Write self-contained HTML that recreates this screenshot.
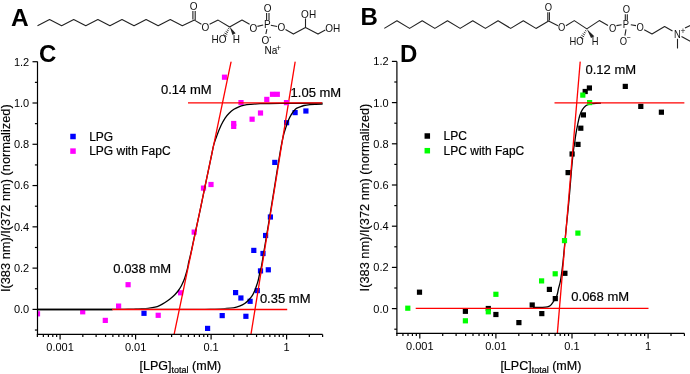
<!DOCTYPE html>
<html><head><meta charset="utf-8"><style>
html,body{margin:0;padding:0;background:#fff;}
svg{display:block;font-family:"Liberation Sans", sans-serif;will-change:transform;}

</style></head><body>
<svg width="690" height="374" viewBox="0 0 690 374">
<rect width="690" height="374" fill="#fff"/>
<text x="11.1" y="25.5" font-size="24.5" text-anchor="start" font-weight="bold" fill="#000">A</text>
<polyline points="37.5,25.8 49.57,19.6 61.64,25.8 73.71,19.6 85.78,25.8 97.85,19.6 109.92,25.8 121.98,19.6 134.05,25.8 146.12,19.6 158.19,25.8 170.26,19.6 182.33,25.8 194.4,20.1 201.4,24.2" fill="none" stroke="#222" stroke-width="1.1" stroke-linejoin="round"/>
<line x1="192.9" y1="19.6" x2="192.9" y2="11" stroke="#222" stroke-width="1.1"/>
<line x1="195.2" y1="20.1" x2="195.2" y2="11" stroke="#222" stroke-width="1.1"/>
<text transform="translate(193.6,6.4) scale(1,1.1)" x="0" y="3.58" font-size="10.0" text-anchor="middle" fill="#111">O</text>
<text transform="translate(205.4,26.8) scale(1,1.1)" x="0" y="3.58" font-size="10.0" text-anchor="middle" fill="#111">O</text>
<polyline points="209.6,24.3 218.1,20.1 229.6,27 242,20.1 249.6,24.3" fill="none" stroke="#222" stroke-width="1.1" stroke-linejoin="round"/>
<line x1="229.35" y1="28.88" x2="228.13" y2="28.2" stroke="#222" stroke-width="0.9"/>
<line x1="228.66" y1="30.76" x2="226.9" y2="29.8" stroke="#222" stroke-width="0.9"/>
<line x1="227.96" y1="32.65" x2="225.68" y2="31.39" stroke="#222" stroke-width="0.9"/>
<line x1="227.26" y1="34.53" x2="224.46" y2="32.99" stroke="#222" stroke-width="0.9"/>
<line x1="226.56" y1="36.42" x2="223.24" y2="34.58" stroke="#222" stroke-width="0.9"/>
<polygon points="229.7,26.8 232.5,35 235.6,33.3" fill="#222"/>
<text transform="translate(219,39.1) scale(1,1.1)" x="0" y="3.58" font-size="10.0" text-anchor="middle" fill="#111">HO</text>
<text transform="translate(236.3,39.1) scale(1,1.1)" x="0" y="3.58" font-size="10.0" text-anchor="middle" fill="#111">H</text>
<text transform="translate(253.5,27.6) scale(1,1.1)" x="0" y="3.58" font-size="10.0" text-anchor="middle" fill="#111">O</text>
<line x1="257.4" y1="26.4" x2="263.2" y2="25" stroke="#222" stroke-width="1.1"/>
<text transform="translate(267.3,24.3) scale(1,1.1)" x="0" y="3.58" font-size="10.0" text-anchor="middle" fill="#111">P</text>
<line x1="266.6" y1="20.2" x2="266.6" y2="12.9" stroke="#222" stroke-width="1.1"/>
<line x1="269" y1="20.2" x2="269" y2="12.9" stroke="#222" stroke-width="1.1"/>
<text transform="translate(267.7,7.8) scale(1,1.1)" x="0" y="3.58" font-size="10.0" text-anchor="middle" fill="#111">O</text>
<line x1="266.9" y1="29.2" x2="265.9" y2="34" stroke="#222" stroke-width="1.1"/>
<text transform="translate(265.3,40) scale(1,1.1)" x="0" y="3.58" font-size="10.0" text-anchor="middle" fill="#111">O</text>
<line x1="269.4" y1="37.3" x2="271" y2="37.3" stroke="#222" stroke-width="0.9"/>
<line x1="270.8" y1="25.2" x2="277.2" y2="26.5" stroke="#222" stroke-width="1.1"/>
<text transform="translate(281.3,27.5) scale(1,1.1)" x="0" y="3.58" font-size="10.0" text-anchor="middle" fill="#111">O</text>
<polyline points="285.5,29.6 293.4,34.1 305.5,27.5 318,34.1 325.3,30" fill="none" stroke="#222" stroke-width="1.1" stroke-linejoin="round"/>
<line x1="305.5" y1="27.5" x2="305.5" y2="18.4" stroke="#222" stroke-width="1.1"/>
<text transform="translate(308.6,13.6) scale(1,1.1)" x="0" y="3.58" font-size="10.0" text-anchor="middle" fill="#111">OH</text>
<text transform="translate(332.7,27.8) scale(1,1.1)" x="0" y="3.58" font-size="10.0" text-anchor="middle" fill="#111">OH</text>
<text x="264.5" y="54.3" font-size="10.0" text-anchor="start" font-weight="normal" fill="#111" stroke="#111" stroke-width="0.1">Na</text>
<text x="278.6" y="50.9" font-size="8.5" text-anchor="middle" font-weight="normal" fill="#111">+</text>
<text x="360.5" y="25.3" font-size="24" text-anchor="start" font-weight="bold" fill="#000">B</text>
<polyline points="384.3,28.4 396.94,20.8 409.58,28.4 422.22,20.8 434.85,28.4 447.49,20.8 460.13,28.4 472.77,20.8 485.41,28.4 498.05,20.8 510.68,28.4 523.32,20.8 535.96,28.4 548.6,21.1 558,25.8" fill="none" stroke="#222" stroke-width="1.1" stroke-linejoin="round"/>
<line x1="547.8" y1="21.1" x2="547.8" y2="12.2" stroke="#222" stroke-width="1.1"/>
<line x1="549.4" y1="20.6" x2="549.4" y2="12.2" stroke="#222" stroke-width="1.1"/>
<text transform="translate(548.5,6.8) scale(1,1.1)" x="0" y="3.37" font-size="9.4" text-anchor="middle" fill="#111">O</text>
<text transform="translate(561.7,27.5) scale(1,1.1)" x="0" y="3.37" font-size="9.4" text-anchor="middle" fill="#111">O</text>
<polyline points="565.9,25.8 574.3,20.6 586.8,28.9 599.3,20.6 608,25.6" fill="none" stroke="#222" stroke-width="1.1" stroke-linejoin="round"/>
<line x1="586.39" y1="31.11" x2="585.17" y2="30.41" stroke="#222" stroke-width="0.9"/>
<line x1="585.63" y1="33.02" x2="583.89" y2="32.02" stroke="#222" stroke-width="0.9"/>
<line x1="584.86" y1="34.93" x2="582.62" y2="33.63" stroke="#222" stroke-width="0.9"/>
<line x1="584.1" y1="36.84" x2="581.34" y2="35.24" stroke="#222" stroke-width="0.9"/>
<line x1="583.34" y1="38.75" x2="580.06" y2="36.85" stroke="#222" stroke-width="0.9"/>
<polygon points="586.8,29 591,37.9 594.3,36.3" fill="#222"/>
<text transform="translate(576.5,41.7) scale(1,1.1)" x="0" y="3.37" font-size="9.4" text-anchor="middle" fill="#111">HO</text>
<text transform="translate(595.2,41.7) scale(1,1.1)" x="0" y="3.37" font-size="9.4" text-anchor="middle" fill="#111">H</text>
<text transform="translate(612.6,27.9) scale(1,1.1)" x="0" y="3.37" font-size="9.4" text-anchor="middle" fill="#111">O</text>
<line x1="616.4" y1="25.6" x2="621.6" y2="24.8" stroke="#222" stroke-width="1.1"/>
<text transform="translate(626,24.7) scale(1,1.1)" x="0" y="3.37" font-size="9.4" text-anchor="middle" fill="#111">P</text>
<line x1="625.3" y1="20.2" x2="625.3" y2="14.2" stroke="#222" stroke-width="1.1"/>
<line x1="627.3" y1="20.2" x2="627.3" y2="14.2" stroke="#222" stroke-width="1.1"/>
<text transform="translate(626.3,9.1) scale(1,1.1)" x="0" y="3.37" font-size="9.4" text-anchor="middle" fill="#111">O</text>
<line x1="626" y1="29.4" x2="624.9" y2="35.6" stroke="#222" stroke-width="1.1"/>
<text transform="translate(623.4,41.4) scale(1,1.1)" x="0" y="3.37" font-size="9.4" text-anchor="middle" fill="#111">O</text>
<text x="629" y="39.6" font-size="6.5" text-anchor="middle" font-weight="normal" fill="#111" stroke="#111" stroke-width="0.2">−</text>
<line x1="630.8" y1="24.8" x2="636" y2="25.6" stroke="#222" stroke-width="1.1"/>
<text transform="translate(640.1,27.6) scale(1,1.1)" x="0" y="3.37" font-size="9.4" text-anchor="middle" fill="#111">O</text>
<polyline points="644.2,29.8 652,34 664.6,26.5 672.5,31" fill="none" stroke="#222" stroke-width="1.1" stroke-linejoin="round"/>
<text transform="translate(677.3,34) scale(1,1.1)" x="0" y="3.37" font-size="9.4" text-anchor="middle" fill="#111">N</text>
<text x="683" y="34.4" font-size="8.5" text-anchor="middle" font-weight="normal" fill="#111">+</text>
<line x1="685" y1="28" x2="690.5" y2="25.5" stroke="#222" stroke-width="1.1"/>
<line x1="681.5" y1="36.4" x2="690.5" y2="41.5" stroke="#222" stroke-width="1.1"/>
<line x1="677.5" y1="38.8" x2="677.5" y2="48.5" stroke="#222" stroke-width="1.1"/>
<text x="38.9" y="62.2" font-size="24" text-anchor="start" font-weight="bold" fill="#000">C</text>
<clipPath id="cc"><rect x="37.5" y="61.4" width="285.1" height="273"/></clipPath>
<mask id="mcc" maskUnits="userSpaceOnUse" x="0" y="0" width="690" height="374"><rect width="690" height="374" fill="#fff"/><rect x="112.5" y="308.7" width="175.0" height="2.3000000000000114" fill="#000"/></mask>
<g clip-path="url(#cc)">
<rect x="141.4" y="310.7" width="5.2" height="5.2" fill="#00f"/>
<rect x="205" y="325.8" width="5.2" height="5.2" fill="#00f"/>
<rect x="219.6" y="313" width="5.2" height="5.2" fill="#00f"/>
<rect x="243.3" y="313.7" width="5.2" height="5.2" fill="#00f"/>
<rect x="233" y="290" width="5.2" height="5.2" fill="#00f"/>
<rect x="238.3" y="295.4" width="5.2" height="5.2" fill="#00f"/>
<rect x="247.5" y="298.7" width="5.2" height="5.2" fill="#00f"/>
<rect x="254.7" y="288" width="5.2" height="5.2" fill="#00f"/>
<rect x="251.2" y="247.8" width="5.2" height="5.2" fill="#00f"/>
<rect x="260.4" y="250.9" width="5.2" height="5.2" fill="#00f"/>
<rect x="257.9" y="268.3" width="5.2" height="5.2" fill="#00f"/>
<rect x="265.7" y="267.2" width="5.2" height="5.2" fill="#00f"/>
<rect x="263" y="232.9" width="5.2" height="5.2" fill="#00f"/>
<rect x="267.8" y="214.4" width="5.2" height="5.2" fill="#00f"/>
<rect x="272.2" y="159.8" width="5.2" height="5.2" fill="#00f"/>
<rect x="284" y="120.1" width="5.2" height="5.2" fill="#00f"/>
<rect x="292.5" y="110" width="5.2" height="5.2" fill="#00f"/>
<rect x="303.3" y="108.4" width="5.2" height="5.2" fill="#00f"/>
<path d="M37.3,309.5 C63.58,309.5 167.05,309.52 195,309.5 C222.95,309.48 201.67,309.47 205,309.4 C208.33,309.33 211.67,309.23 215,309.1 C218.33,308.97 221.92,308.82 225,308.6 C228.08,308.38 231.08,308.22 233.5,307.8 C235.92,307.38 237.63,306.82 239.5,306.1 C241.37,305.38 243.13,304.57 244.7,303.5 C246.27,302.43 247.62,301.05 248.9,299.7 C250.18,298.35 251.4,296.97 252.4,295.4 C253.4,293.83 254.13,292.15 254.9,290.3 C255.67,288.45 256.43,286.02 257,284.3 C257.57,282.58 257.83,281.88 258.3,280 C258.77,278.12 259.27,275.33 259.8,273 C260.33,270.67 260.63,270.67 261.5,266 C262.37,261.33 263.58,253.5 265,245 C266.42,236.5 268.33,225.17 270,215 C271.67,204.83 273.33,194.33 275,184 C276.67,173.67 278.62,161 280,153 C281.38,145 282.3,140.32 283.3,136 C284.3,131.68 285.18,129.65 286,127.1 C286.82,124.55 287.3,122.83 288.2,120.7 C289.1,118.57 290.17,116.27 291.4,114.3 C292.63,112.33 294.17,110.13 295.6,108.9 C297.03,107.67 298.6,107.47 300,106.9 C301.4,106.33 302.33,105.88 304,105.5 C305.67,105.12 308,104.8 310,104.6 C312,104.4 313.83,104.37 316,104.3 C318.17,104.23 321.83,104.22 323,104.2" fill="none" stroke="#000" stroke-width="1.3" stroke-linejoin="round" mask="url(#mcc)"/>
<line x1="295.21" y1="61.4" x2="250.96" y2="334.4" stroke="#f00" stroke-width="1.3"/>
<rect x="34.9" y="311.2" width="5.2" height="5.2" fill="#f0f"/>
<rect x="80.1" y="309.2" width="5.2" height="5.2" fill="#f0f"/>
<rect x="102.7" y="317.8" width="5.2" height="5.2" fill="#f0f"/>
<rect x="116" y="303.5" width="5.2" height="5.2" fill="#f0f"/>
<rect x="125.5" y="282.1" width="5.2" height="5.2" fill="#f0f"/>
<rect x="155.6" y="312.7" width="5.2" height="5.2" fill="#f0f"/>
<rect x="178" y="290.2" width="5.2" height="5.2" fill="#f0f"/>
<rect x="191.6" y="229.5" width="5.2" height="5.2" fill="#f0f"/>
<rect x="200.9" y="185.5" width="5.2" height="5.2" fill="#f0f"/>
<rect x="208.4" y="181.9" width="5.2" height="5.2" fill="#f0f"/>
<rect x="221.9" y="74.6" width="5.2" height="5.2" fill="#f0f"/>
<rect x="231.1" y="120.9" width="5.2" height="5.2" fill="#f0f"/>
<rect x="231.1" y="123.8" width="5.2" height="5.2" fill="#f0f"/>
<rect x="238.4" y="100" width="5.2" height="5.2" fill="#f0f"/>
<rect x="249.5" y="116.6" width="5.2" height="5.2" fill="#f0f"/>
<rect x="257.9" y="110.4" width="5.2" height="5.2" fill="#f0f"/>
<rect x="264.2" y="96.8" width="5.2" height="5.2" fill="#f0f"/>
<rect x="269.9" y="91.7" width="5.2" height="5.2" fill="#f0f"/>
<rect x="274.7" y="91.7" width="5.2" height="5.2" fill="#f0f"/>
<rect x="283.9" y="100" width="5.2" height="5.2" fill="#f0f"/>
<path d="M37.3,309.5 C49.75,309.5 97.55,309.51 112,309.5 C126.45,309.49 121,309.51 124,309.45 C127,309.39 128,309.23 130,309.15 C132,309.07 134,309.02 136,308.95 C138,308.88 140,308.86 142,308.75 C144,308.64 145.83,308.56 148,308.3 C150.17,308.04 153,307.7 155,307.2 C157,306.7 158.33,306.08 160,305.3 C161.67,304.52 163.33,303.55 165,302.5 C166.67,301.45 168.37,300.28 170,299 C171.63,297.72 173.4,296.22 174.8,294.8 C176.2,293.38 177.3,292.02 178.4,290.5 C179.5,288.98 180.48,287.4 181.4,285.7 C182.32,284 183.18,282.1 183.9,280.3 C184.62,278.5 185.1,276.9 185.7,274.9 C186.3,272.9 187,270.42 187.5,268.3 C188,266.18 188.3,264.02 188.7,262.2 C189.1,260.38 189.42,259.43 189.9,257.4 C190.38,255.37 190.92,253.15 191.6,250 C192.28,246.85 193.18,242.33 194,238.5 C194.82,234.67 195.37,232.25 196.5,227 C197.63,221.75 199.38,213.75 200.8,207 C202.22,200.25 203.63,193.1 205,186.5 C206.37,179.9 207.83,172.98 209,167.4 C210.17,161.82 211.2,156.8 212,153 C212.8,149.2 212.95,147.6 213.8,144.6 C214.65,141.6 215.88,138.22 217.1,135 C218.32,131.78 219.77,128.12 221.1,125.3 C222.43,122.48 223.77,120.1 225.1,118.1 C226.43,116.1 227.63,114.77 229.1,113.3 C230.57,111.83 232.28,110.38 233.9,109.3 C235.52,108.22 237.05,107.48 238.8,106.8 C240.55,106.12 242.53,105.6 244.4,105.2 C246.27,104.8 247.4,104.65 250,104.4 C252.6,104.15 255,103.88 260,103.7 C265,103.52 269.5,103.38 280,103.3 C290.5,103.22 315.83,103.22 323,103.2" fill="none" stroke="#000" stroke-width="1.3" stroke-linejoin="round" mask="url(#mcc)"/>
<line x1="231.15" y1="61.4" x2="174.12" y2="334.4" stroke="#f00" stroke-width="1.3"/>
<line x1="112.1" y1="309.5" x2="287.2" y2="309.5" stroke="#f00" stroke-width="1.3"/>
<line x1="188" y1="102.8" x2="322.3" y2="102.8" stroke="#f00" stroke-width="1.3"/>
</g>
<line x1="37.5" y1="61.4" x2="37.5" y2="335" stroke="#000" stroke-width="1.2"/>
<line x1="36.9" y1="334.4" x2="322.6" y2="334.4" stroke="#000" stroke-width="1.2"/>
<line x1="34.9" y1="330.04" x2="37.5" y2="330.04" stroke="#000" stroke-width="1.2"/>
<line x1="32.5" y1="309.4" x2="37.5" y2="309.4" stroke="#000" stroke-width="1.2"/>
<text x="29.2" y="313.3" font-size="11" text-anchor="end" font-weight="normal" fill="#000">0.0</text>
<line x1="34.9" y1="288.76" x2="37.5" y2="288.76" stroke="#000" stroke-width="1.2"/>
<line x1="32.5" y1="268.12" x2="37.5" y2="268.12" stroke="#000" stroke-width="1.2"/>
<text x="29.2" y="272.02" font-size="11" text-anchor="end" font-weight="normal" fill="#000">0.2</text>
<line x1="34.9" y1="247.48" x2="37.5" y2="247.48" stroke="#000" stroke-width="1.2"/>
<line x1="32.5" y1="226.84" x2="37.5" y2="226.84" stroke="#000" stroke-width="1.2"/>
<text x="29.2" y="230.74" font-size="11" text-anchor="end" font-weight="normal" fill="#000">0.4</text>
<line x1="34.9" y1="206.2" x2="37.5" y2="206.2" stroke="#000" stroke-width="1.2"/>
<line x1="32.5" y1="185.56" x2="37.5" y2="185.56" stroke="#000" stroke-width="1.2"/>
<text x="29.2" y="189.46" font-size="11" text-anchor="end" font-weight="normal" fill="#000">0.6</text>
<line x1="34.9" y1="164.92" x2="37.5" y2="164.92" stroke="#000" stroke-width="1.2"/>
<line x1="32.5" y1="144.28" x2="37.5" y2="144.28" stroke="#000" stroke-width="1.2"/>
<text x="29.2" y="148.18" font-size="11" text-anchor="end" font-weight="normal" fill="#000">0.8</text>
<line x1="34.9" y1="123.64" x2="37.5" y2="123.64" stroke="#000" stroke-width="1.2"/>
<line x1="32.5" y1="103" x2="37.5" y2="103" stroke="#000" stroke-width="1.2"/>
<text x="29.2" y="106.9" font-size="11" text-anchor="end" font-weight="normal" fill="#000">1.0</text>
<line x1="34.9" y1="82.36" x2="37.5" y2="82.36" stroke="#000" stroke-width="1.2"/>
<line x1="32.5" y1="61.72" x2="37.5" y2="61.72" stroke="#000" stroke-width="1.2"/>
<text x="29.2" y="65.62" font-size="11" text-anchor="end" font-weight="normal" fill="#000">1.2</text>
<line x1="37.37" y1="334.4" x2="37.37" y2="337" stroke="#000" stroke-width="1.2"/>
<line x1="43.35" y1="334.4" x2="43.35" y2="337" stroke="#000" stroke-width="1.2"/>
<line x1="48.4" y1="334.4" x2="48.4" y2="337" stroke="#000" stroke-width="1.2"/>
<line x1="52.78" y1="334.4" x2="52.78" y2="337" stroke="#000" stroke-width="1.2"/>
<line x1="56.65" y1="334.4" x2="56.65" y2="337" stroke="#000" stroke-width="1.2"/>
<line x1="60.1" y1="334.4" x2="60.1" y2="339.4" stroke="#000" stroke-width="1.2"/>
<text x="60.1" y="351" font-size="11" text-anchor="middle" font-weight="normal" fill="#000">0.001</text>
<line x1="82.83" y1="334.4" x2="82.83" y2="337" stroke="#000" stroke-width="1.2"/>
<line x1="96.12" y1="334.4" x2="96.12" y2="337" stroke="#000" stroke-width="1.2"/>
<line x1="105.56" y1="334.4" x2="105.56" y2="337" stroke="#000" stroke-width="1.2"/>
<line x1="112.87" y1="334.4" x2="112.87" y2="337" stroke="#000" stroke-width="1.2"/>
<line x1="118.85" y1="334.4" x2="118.85" y2="337" stroke="#000" stroke-width="1.2"/>
<line x1="123.9" y1="334.4" x2="123.9" y2="337" stroke="#000" stroke-width="1.2"/>
<line x1="128.28" y1="334.4" x2="128.28" y2="337" stroke="#000" stroke-width="1.2"/>
<line x1="132.15" y1="334.4" x2="132.15" y2="337" stroke="#000" stroke-width="1.2"/>
<line x1="135.6" y1="334.4" x2="135.6" y2="339.4" stroke="#000" stroke-width="1.2"/>
<text x="135.6" y="351" font-size="11" text-anchor="middle" font-weight="normal" fill="#000">0.01</text>
<line x1="158.33" y1="334.4" x2="158.33" y2="337" stroke="#000" stroke-width="1.2"/>
<line x1="171.62" y1="334.4" x2="171.62" y2="337" stroke="#000" stroke-width="1.2"/>
<line x1="181.06" y1="334.4" x2="181.06" y2="337" stroke="#000" stroke-width="1.2"/>
<line x1="188.37" y1="334.4" x2="188.37" y2="337" stroke="#000" stroke-width="1.2"/>
<line x1="194.35" y1="334.4" x2="194.35" y2="337" stroke="#000" stroke-width="1.2"/>
<line x1="199.4" y1="334.4" x2="199.4" y2="337" stroke="#000" stroke-width="1.2"/>
<line x1="203.78" y1="334.4" x2="203.78" y2="337" stroke="#000" stroke-width="1.2"/>
<line x1="207.65" y1="334.4" x2="207.65" y2="337" stroke="#000" stroke-width="1.2"/>
<line x1="211.1" y1="334.4" x2="211.1" y2="339.4" stroke="#000" stroke-width="1.2"/>
<text x="211.1" y="351" font-size="11" text-anchor="middle" font-weight="normal" fill="#000">0.1</text>
<line x1="233.83" y1="334.4" x2="233.83" y2="337" stroke="#000" stroke-width="1.2"/>
<line x1="247.12" y1="334.4" x2="247.12" y2="337" stroke="#000" stroke-width="1.2"/>
<line x1="256.56" y1="334.4" x2="256.56" y2="337" stroke="#000" stroke-width="1.2"/>
<line x1="263.87" y1="334.4" x2="263.87" y2="337" stroke="#000" stroke-width="1.2"/>
<line x1="269.85" y1="334.4" x2="269.85" y2="337" stroke="#000" stroke-width="1.2"/>
<line x1="274.9" y1="334.4" x2="274.9" y2="337" stroke="#000" stroke-width="1.2"/>
<line x1="279.28" y1="334.4" x2="279.28" y2="337" stroke="#000" stroke-width="1.2"/>
<line x1="283.15" y1="334.4" x2="283.15" y2="337" stroke="#000" stroke-width="1.2"/>
<line x1="286.6" y1="334.4" x2="286.6" y2="339.4" stroke="#000" stroke-width="1.2"/>
<text x="286.6" y="351" font-size="11" text-anchor="middle" font-weight="normal" fill="#000">1</text>
<line x1="309.33" y1="334.4" x2="309.33" y2="337" stroke="#000" stroke-width="1.2"/>
<line x1="322.62" y1="334.4" x2="322.62" y2="337" stroke="#000" stroke-width="1.2"/>
<rect x="70.25" y="133.75" width="5.5" height="5.5" fill="#00f"/>
<text x="89.2" y="140.5" font-size="12" text-anchor="start" font-weight="normal" fill="#000" stroke="#000" stroke-width="0.2">LPG</text>
<rect x="70.25" y="148.35" width="5.5" height="5.5" fill="#f0f"/>
<text x="89.2" y="155.1" font-size="12" text-anchor="start" font-weight="normal" fill="#000" stroke="#000" stroke-width="0.2">LPG with FapC</text>
<text x="161" y="94.4" font-size="13" text-anchor="start" font-weight="normal" fill="#000" stroke="#000" stroke-width="0.2">0.14 mM</text>
<text x="290.6" y="96.6" font-size="13" text-anchor="start" font-weight="normal" fill="#000" stroke="#000" stroke-width="0.2">1.05 mM</text>
<text x="113.3" y="273.1" font-size="13" text-anchor="start" font-weight="normal" fill="#000" stroke="#000" stroke-width="0.2">0.038 mM</text>
<text x="259.9" y="303.1" font-size="13" text-anchor="start" font-weight="normal" fill="#000" stroke="#000" stroke-width="0.2">0.35 mM</text>
<text x="400" y="61.8" font-size="24" text-anchor="start" font-weight="bold" fill="#000">D</text>
<clipPath id="dd"><rect x="396.9" y="61.4" width="287.5" height="272"/></clipPath>
<g clip-path="url(#dd)">
<rect x="416.9" y="289.6" width="5.2" height="5.2" fill="#000"/>
<rect x="462.8" y="308.7" width="5.2" height="5.2" fill="#000"/>
<rect x="485.7" y="305.9" width="5.2" height="5.2" fill="#000"/>
<rect x="493.3" y="311.9" width="5.2" height="5.2" fill="#000"/>
<rect x="516.3" y="320" width="5.2" height="5.2" fill="#000"/>
<rect x="529.6" y="302.4" width="5.2" height="5.2" fill="#000"/>
<rect x="539.2" y="311" width="5.2" height="5.2" fill="#000"/>
<rect x="546.8" y="286.8" width="5.2" height="5.2" fill="#000"/>
<rect x="552.7" y="296" width="5.2" height="5.2" fill="#000"/>
<rect x="562.3" y="270.7" width="5.2" height="5.2" fill="#000"/>
<rect x="565.5" y="170" width="5.2" height="5.2" fill="#000"/>
<rect x="569.5" y="151.4" width="5.2" height="5.2" fill="#000"/>
<rect x="575.4" y="141.8" width="5.2" height="5.2" fill="#000"/>
<rect x="578.2" y="125.6" width="5.2" height="5.2" fill="#000"/>
<rect x="580.8" y="112.3" width="5.2" height="5.2" fill="#000"/>
<rect x="582.6" y="88.9" width="5.2" height="5.2" fill="#000"/>
<rect x="586.8" y="85.4" width="5.2" height="5.2" fill="#000"/>
<rect x="622.7" y="83.8" width="5.2" height="5.2" fill="#000"/>
<rect x="638.2" y="103.8" width="5.2" height="5.2" fill="#000"/>
<rect x="658.8" y="109.6" width="5.2" height="5.2" fill="#000"/>
<path d="M533,307.5 C533.67,307.5 535.6,307.52 537,307.5 C538.4,307.48 539.98,307.45 541.4,307.4 C542.82,307.35 544.25,307.37 545.5,307.2 C546.75,307.03 547.93,306.83 548.9,306.4 C549.87,305.97 550.58,305.35 551.3,304.6 C552.02,303.85 552.58,302.75 553.2,301.9 C553.82,301.05 554.47,300.3 555,299.5 C555.53,298.7 555.97,298.18 556.4,297.1 C556.83,296.02 557.25,294.42 557.6,293 C557.95,291.58 558,290.77 558.5,288.6 C559,286.43 559.85,284.43 560.6,280 C561.35,275.57 562.1,270.33 563,262 C563.9,253.67 565,240.33 566,230 C567,219.67 568.08,210 569,200 C569.92,190 570.75,178.33 571.5,170 C572.25,161.67 573.02,154.17 573.5,150 C573.98,145.83 574.03,147.48 574.4,145 C574.77,142.52 575.15,138.53 575.7,135.1 C576.25,131.67 577.03,127.63 577.7,124.4 C578.37,121.17 578.92,118.15 579.7,115.7 C580.48,113.25 581.43,111.33 582.4,109.7 C583.37,108.07 584.48,106.78 585.5,105.9 C586.52,105.02 587.42,104.78 588.5,104.4 C589.58,104.02 590.75,103.79 592,103.6 C593.25,103.41 594.5,103.33 596,103.25 C597.5,103.17 600.17,103.12 601,103.1" fill="none" stroke="#000" stroke-width="1.3" stroke-linejoin="round"/>
<line x1="580.24" y1="61.3" x2="557.34" y2="333.4" stroke="#f00" stroke-width="1.3"/>
<rect x="405.2" y="305.6" width="5.2" height="5.2" fill="#0f0"/>
<rect x="462.8" y="318.2" width="5.2" height="5.2" fill="#0f0"/>
<rect x="485.7" y="309.2" width="5.2" height="5.2" fill="#0f0"/>
<rect x="493.3" y="291.7" width="5.2" height="5.2" fill="#0f0"/>
<rect x="539" y="278.3" width="5.2" height="5.2" fill="#0f0"/>
<rect x="552.6" y="271.2" width="5.2" height="5.2" fill="#0f0"/>
<rect x="561.9" y="238" width="5.2" height="5.2" fill="#0f0"/>
<rect x="575.3" y="230.5" width="5.2" height="5.2" fill="#0f0"/>
<rect x="580.2" y="92.5" width="5.2" height="5.2" fill="#0f0"/>
<rect x="587" y="100" width="5.2" height="5.2" fill="#0f0"/>
<line x1="415.7" y1="308.3" x2="648.5" y2="308.3" stroke="#f00" stroke-width="1.3"/>
<line x1="554.5" y1="102.8" x2="684.9" y2="102.8" stroke="#f00" stroke-width="1.3"/>
</g>
<line x1="396.9" y1="61.4" x2="396.9" y2="334" stroke="#000" stroke-width="1.2"/>
<line x1="396.3" y1="333.4" x2="684.4" y2="333.4" stroke="#000" stroke-width="1.2"/>
<line x1="394.3" y1="329.2" x2="396.9" y2="329.2" stroke="#000" stroke-width="1.2"/>
<line x1="391.9" y1="308.6" x2="396.9" y2="308.6" stroke="#000" stroke-width="1.2"/>
<text x="388.6" y="312.5" font-size="11" text-anchor="end" font-weight="normal" fill="#000">0.0</text>
<line x1="394.3" y1="288" x2="396.9" y2="288" stroke="#000" stroke-width="1.2"/>
<line x1="391.9" y1="267.4" x2="396.9" y2="267.4" stroke="#000" stroke-width="1.2"/>
<text x="388.6" y="271.3" font-size="11" text-anchor="end" font-weight="normal" fill="#000">0.2</text>
<line x1="394.3" y1="246.8" x2="396.9" y2="246.8" stroke="#000" stroke-width="1.2"/>
<line x1="391.9" y1="226.2" x2="396.9" y2="226.2" stroke="#000" stroke-width="1.2"/>
<text x="388.6" y="230.1" font-size="11" text-anchor="end" font-weight="normal" fill="#000">0.4</text>
<line x1="394.3" y1="205.6" x2="396.9" y2="205.6" stroke="#000" stroke-width="1.2"/>
<line x1="391.9" y1="185" x2="396.9" y2="185" stroke="#000" stroke-width="1.2"/>
<text x="388.6" y="188.9" font-size="11" text-anchor="end" font-weight="normal" fill="#000">0.6</text>
<line x1="394.3" y1="164.4" x2="396.9" y2="164.4" stroke="#000" stroke-width="1.2"/>
<line x1="391.9" y1="143.8" x2="396.9" y2="143.8" stroke="#000" stroke-width="1.2"/>
<text x="388.6" y="147.7" font-size="11" text-anchor="end" font-weight="normal" fill="#000">0.8</text>
<line x1="394.3" y1="123.2" x2="396.9" y2="123.2" stroke="#000" stroke-width="1.2"/>
<line x1="391.9" y1="102.6" x2="396.9" y2="102.6" stroke="#000" stroke-width="1.2"/>
<text x="388.6" y="106.5" font-size="11" text-anchor="end" font-weight="normal" fill="#000">1.0</text>
<line x1="394.3" y1="82" x2="396.9" y2="82" stroke="#000" stroke-width="1.2"/>
<line x1="391.9" y1="61.4" x2="396.9" y2="61.4" stroke="#000" stroke-width="1.2"/>
<text x="388.6" y="65.3" font-size="11" text-anchor="end" font-weight="normal" fill="#000">1.2</text>
<line x1="396.89" y1="333.4" x2="396.89" y2="336" stroke="#000" stroke-width="1.2"/>
<line x1="402.92" y1="333.4" x2="402.92" y2="336" stroke="#000" stroke-width="1.2"/>
<line x1="408.01" y1="333.4" x2="408.01" y2="336" stroke="#000" stroke-width="1.2"/>
<line x1="412.43" y1="333.4" x2="412.43" y2="336" stroke="#000" stroke-width="1.2"/>
<line x1="416.32" y1="333.4" x2="416.32" y2="336" stroke="#000" stroke-width="1.2"/>
<line x1="419.8" y1="333.4" x2="419.8" y2="338.4" stroke="#000" stroke-width="1.2"/>
<text x="419.8" y="350" font-size="11" text-anchor="middle" font-weight="normal" fill="#000">0.001</text>
<line x1="442.71" y1="333.4" x2="442.71" y2="336" stroke="#000" stroke-width="1.2"/>
<line x1="456.11" y1="333.4" x2="456.11" y2="336" stroke="#000" stroke-width="1.2"/>
<line x1="465.62" y1="333.4" x2="465.62" y2="336" stroke="#000" stroke-width="1.2"/>
<line x1="472.99" y1="333.4" x2="472.99" y2="336" stroke="#000" stroke-width="1.2"/>
<line x1="479.02" y1="333.4" x2="479.02" y2="336" stroke="#000" stroke-width="1.2"/>
<line x1="484.11" y1="333.4" x2="484.11" y2="336" stroke="#000" stroke-width="1.2"/>
<line x1="488.53" y1="333.4" x2="488.53" y2="336" stroke="#000" stroke-width="1.2"/>
<line x1="492.42" y1="333.4" x2="492.42" y2="336" stroke="#000" stroke-width="1.2"/>
<line x1="495.9" y1="333.4" x2="495.9" y2="338.4" stroke="#000" stroke-width="1.2"/>
<text x="495.9" y="350" font-size="11" text-anchor="middle" font-weight="normal" fill="#000">0.01</text>
<line x1="518.81" y1="333.4" x2="518.81" y2="336" stroke="#000" stroke-width="1.2"/>
<line x1="532.21" y1="333.4" x2="532.21" y2="336" stroke="#000" stroke-width="1.2"/>
<line x1="541.72" y1="333.4" x2="541.72" y2="336" stroke="#000" stroke-width="1.2"/>
<line x1="549.09" y1="333.4" x2="549.09" y2="336" stroke="#000" stroke-width="1.2"/>
<line x1="555.12" y1="333.4" x2="555.12" y2="336" stroke="#000" stroke-width="1.2"/>
<line x1="560.21" y1="333.4" x2="560.21" y2="336" stroke="#000" stroke-width="1.2"/>
<line x1="564.63" y1="333.4" x2="564.63" y2="336" stroke="#000" stroke-width="1.2"/>
<line x1="568.52" y1="333.4" x2="568.52" y2="336" stroke="#000" stroke-width="1.2"/>
<line x1="572" y1="333.4" x2="572" y2="338.4" stroke="#000" stroke-width="1.2"/>
<text x="572" y="350" font-size="11" text-anchor="middle" font-weight="normal" fill="#000">0.1</text>
<line x1="594.91" y1="333.4" x2="594.91" y2="336" stroke="#000" stroke-width="1.2"/>
<line x1="608.31" y1="333.4" x2="608.31" y2="336" stroke="#000" stroke-width="1.2"/>
<line x1="617.82" y1="333.4" x2="617.82" y2="336" stroke="#000" stroke-width="1.2"/>
<line x1="625.19" y1="333.4" x2="625.19" y2="336" stroke="#000" stroke-width="1.2"/>
<line x1="631.22" y1="333.4" x2="631.22" y2="336" stroke="#000" stroke-width="1.2"/>
<line x1="636.31" y1="333.4" x2="636.31" y2="336" stroke="#000" stroke-width="1.2"/>
<line x1="640.73" y1="333.4" x2="640.73" y2="336" stroke="#000" stroke-width="1.2"/>
<line x1="644.62" y1="333.4" x2="644.62" y2="336" stroke="#000" stroke-width="1.2"/>
<line x1="648.1" y1="333.4" x2="648.1" y2="338.4" stroke="#000" stroke-width="1.2"/>
<text x="648.1" y="350" font-size="11" text-anchor="middle" font-weight="normal" fill="#000">1</text>
<line x1="671.01" y1="333.4" x2="671.01" y2="336" stroke="#000" stroke-width="1.2"/>
<line x1="684.41" y1="333.4" x2="684.41" y2="336" stroke="#000" stroke-width="1.2"/>
<rect x="424.55" y="133.25" width="5.5" height="5.5" fill="#000"/>
<text x="443.6" y="140" font-size="12" text-anchor="start" font-weight="normal" fill="#000" stroke="#000" stroke-width="0.2">LPC</text>
<rect x="424.55" y="147.95" width="5.5" height="5.5" fill="#0f0"/>
<text x="443.6" y="154.7" font-size="12" text-anchor="start" font-weight="normal" fill="#000" stroke="#000" stroke-width="0.2">LPC with FapC</text>
<text x="585.5" y="73.8" font-size="13" text-anchor="start" font-weight="normal" fill="#000" stroke="#000" stroke-width="0.2">0.12 mM</text>
<text x="571.3" y="301" font-size="13" text-anchor="start" font-weight="normal" fill="#000" stroke="#000" stroke-width="0.2">0.068 mM</text>
<text x="139.6" y="370.3" font-size="12.5" fill="#000" stroke="#000" stroke-width="0.2">[LPG]<tspan font-size="9" dy="3">total</tspan><tspan dy="-3"> (mM)</tspan></text>
<text x="500.4" y="370.3" font-size="12.5" fill="#000" stroke="#000" stroke-width="0.2">[LPC]<tspan font-size="9" dy="3">total</tspan><tspan dy="-3"> (mM)</tspan></text>
<text transform="translate(9.7,198.2) rotate(-90)" font-size="12.8" text-anchor="middle" fill="#000" stroke="#000" stroke-width="0.15">I(383 nm)/I(372 nm) (normalized)</text>
<text transform="translate(368.5,197.5) rotate(-90)" font-size="12.8" text-anchor="middle" fill="#000" stroke="#000" stroke-width="0.15">I(383 nm)/I(372 nm) (normalized)</text>
</svg></body></html>
